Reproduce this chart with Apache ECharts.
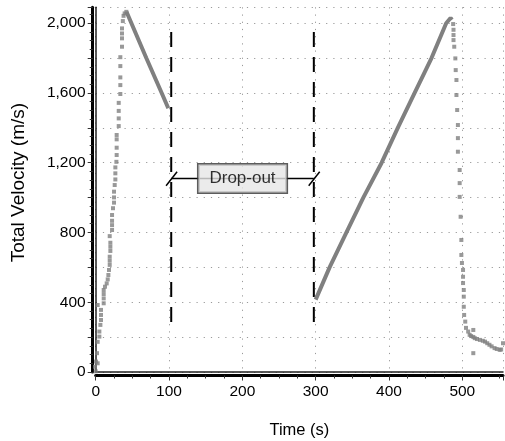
<!DOCTYPE html>
<html>
<head>
<meta charset="utf-8">
<script src="https://cdn.jsdelivr.net/npm/echarts@6/dist/echarts.min.js"></script>
<style>
  html, body { margin: 0; padding: 0; background: #fff; }
  #chart { width: 505px; height: 441px; }
</style>
</head>
<body>
<div id="chart"></div>
<script>
// first burn: sparse squares from launch up to the peak  [time s, velocity m/s]
const riseA = [
  [0, 4], [-1, 30], [0.5, 60], [2.7, 50], [1.8, 108], [2.7, 173], [5, 203], [5, 232],
  [6.4, 270], [7.2, 298], [7.2, 327], [7.2, 356], [2.7, 384], [10.9, 394], [10.9, 422],
  [10.9, 447], [10.9, 470], [12.7, 489], [15, 508], [16.4, 531], [17.3, 556], [18.1, 585],
  [19.1, 614], [19.1, 638], [19.1, 661], [20, 694], [20, 718], [20, 741], [19.1, 779],
  [22.3, 814], [22.3, 842], [22.3, 867], [22.3, 900], [23.6, 939], [25, 971], [25, 1001],
  [25, 1034], [25.9, 1072], [26.8, 1104], [26.8, 1139], [26.8, 1173], [28.2, 1205],
  [28.6, 1244], [28.6, 1286], [28.6, 1334], [28.6, 1359], [31.4, 1410], [31.4, 1454],
  [31.4, 1497], [31.4, 1543], [33.6, 1594], [33.6, 1645], [33.6, 1689], [33.6, 1754],
  [33.6, 1805], [35.9, 1865], [35.9, 1913], [35.9, 1941], [35.9, 1970], [37, 2012],
  [38, 2042], [39.5, 2056], [41.8, 2065]
];
// decay before the drop-out (dense squares -> thick trace)
const decayA = [[42, 2066], [69, 1800], [90, 1600], [99, 1512]];
// second part after the drop-out (dense squares -> thick trace)
const riseB = [
  [300, 415], [319, 600], [342, 800], [365, 1000], [390, 1200], [412, 1400],
  [435, 1600], [458, 1800], [478, 2000], [484, 2030], [486, 2020]
];
// fall after the second peak and the tail
const fallB = [
  [487.5, 1995], [488, 1962], [488, 1932], [488, 1903], [489, 1865], [490.5, 1798],
  [491, 1731], [492, 1674], [492, 1588], [493, 1502], [494, 1416], [494, 1341],
  [494, 1263], [496.4, 1158], [496.4, 1083], [496.4, 1004], [497.7, 890], [498.7, 757],
  [498.7, 671], [499.5, 625], [501, 585], [501, 546], [501, 510], [502, 470], [502, 432],
  [502, 374], [502.5, 327], [504, 289], [505, 253], [508, 232], [510, 213], [512, 206],
  [515, 201], [517, 194], [520, 189], [524, 184], [528, 179], [531, 174], [534, 165],
  [537, 156], [540, 147], [544, 137], [547, 132], [551, 127], [553, 129], [555.5, 165]
];
const strays = [[515, 241], [515, 108]];

// drop-out annotation
const dropX = [103, 297.5];
const dropTop = 1950, dropBottom = 287, dropY = 1110;
const dropLabel = 'Drop-out';

const xMax = 555.5;
const yMax = 2091;

const FONT = 'Liberation Sans, Arial, sans-serif';
const GREY = '#808080';

const chart = echarts.init(document.getElementById('chart'));

const dotted = { color: '#9a9a9a', width: 1, type: [1.2, 6] };
const tickStyle = { color: '#333', width: 1 };

chart.setOption({
  animation: false,
  // grid edges sit on value 0; the thick axes are pushed out a little with offset
  grid: { left: 95.7, right: 2, top: 7.3, bottom: 69, outerBoundsMode: 'none' },
  xAxis: [
    {
      type: 'value', min: 0, max: xMax, interval: 100, offset: 3.5,
      name: 'Time (s)', nameLocation: 'middle', nameGap: 46,
      nameTextStyle: { fontFamily: FONT, fontSize: 16.5, color: '#000' },
      axisLine: { show: true, onZero: false, lineStyle: { color: '#000', width: 3 } },
      axisTick: { show: true, length: 5, lineStyle: tickStyle },
      minorTick: { show: true, splitNumber: 4, length: 3, lineStyle: tickStyle },
      axisLabel: {
        fontFamily: FONT, fontSize: 15.5, color: '#000', margin: 8,
        formatter: v => (v % 100 === 0 ? String(v) : '')
      },
      splitLine: { show: true, lineStyle: dotted }
    },
    {
      type: 'value', position: 'top', min: 0, max: xMax,
      axisLine: { show: true, lineStyle: { color: '#222', width: 1.5 } },
      axisTick: { show: false }, axisLabel: { show: false }, splitLine: { show: false }
    }
  ],
  yAxis: [
    {
      type: 'value', min: 0, max: yMax, interval: 200, offset: 3,
      name: 'Total Velocity (m/s)', nameLocation: 'middle', nameGap: 64,
      nameTextStyle: { fontFamily: FONT, fontSize: 19, color: '#000', padding: [0, 0, 0, 14] },
      axisLine: { show: true, onZero: false, lineStyle: { color: '#000', width: 3 } },
      axisTick: { show: true, length: 5, lineStyle: tickStyle },
      minorTick: { show: true, splitNumber: 4, length: 3, lineStyle: tickStyle },
      axisLabel: {
        fontFamily: FONT, fontSize: 15.5, color: '#000', margin: 7,
        formatter: v => (v % 400 === 0 ? v.toLocaleString('en-US') : '')
      },
      splitLine: { show: true, lineStyle: dotted }
    },
    {
      type: 'value', position: 'right', min: 0, max: yMax,
      axisLine: { show: true, lineStyle: { color: '#222', width: 1.5 } },
      axisTick: { show: false }, axisLabel: { show: false }, splitLine: { show: false }
    }
  ],
  series: [
    // dashed drop-out limits
    ...dropX.map(x => ({
      type: 'line', silent: true, symbol: 'none', z: 3,
      data: [[x, dropTop], [x, dropBottom]],
      lineStyle: { color: '#000', width: 2, type: [15, 10] }
    })),
    // horizontal connector
    {
      type: 'line', silent: true, symbol: 'none', z: 3,
      data: [[dropX[0], dropY], [dropX[1], dropY]],
      lineStyle: { color: '#000', width: 1.5 }
    },
    // slashes at the two limits
    ...dropX.map(x => ({
      type: 'line', silent: true, symbol: 'none', z: 3,
      data: [[x - 7, dropY - 42], [x + 8, dropY + 38]],
      lineStyle: { color: '#000', width: 1.5 }
    })),
    {
      type: 'scatter', silent: true, z: 5, symbolSize: 1,
      itemStyle: { color: 'rgba(0,0,0,0)' },
      data: [[(dropX[0] + dropX[1]) / 2, dropY]],
      label: {
        show: true, position: 'inside', formatter: dropLabel,
        fontFamily: FONT, fontSize: 17, color: '#000', lineHeight: 20,
        backgroundColor: '#e6e6e6', borderColor: '#333', borderWidth: 1.5,
        padding: [4, 11]
      }
    },
    // data traces
    {
      type: 'line', silent: true, symbol: 'none', z: 4,
      data: decayA, lineStyle: { color: GREY, width: 4 }
    },
    {
      type: 'line', silent: true, symbol: 'none', z: 4,
      data: riseB, lineStyle: { color: GREY, width: 4 }
    },
    {
      type: 'scatter', silent: true, z: 4, symbol: 'rect', symbolSize: 4, clip: false,
      itemStyle: { color: GREY },
      data: riseA.concat(fallB, strays)
    }
  ]
});
</script>
</body>
</html>
